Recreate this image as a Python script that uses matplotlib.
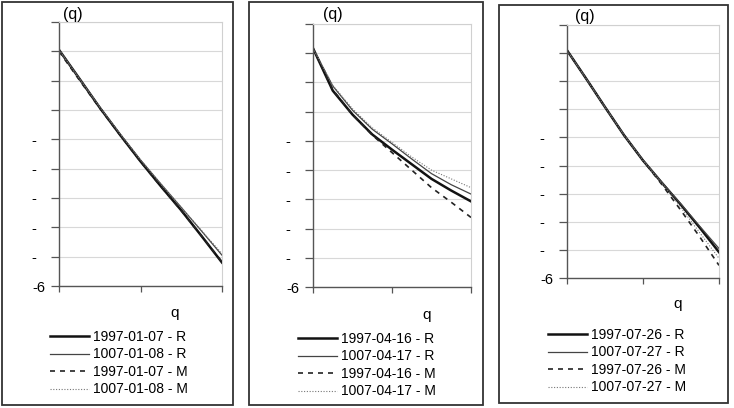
import matplotlib
matplotlib.use('Agg')
import matplotlib.pyplot as plt
from matplotlib.patches import Rectangle
import numpy as np

plt.rcParams['font.family'] = ['Liberation Sans', 'DejaVu Sans']

# x positions of the sampled points (q)
q_pts = [0, 1, 2, 3, 4, 5, 6, 7, 8]

# panel 1
p1_labels = ['1997-01-07 - R', '1007-01-08 - R', '1997-01-07 - M', '1007-01-08 - M']
p1_r1 = [2.05, 1.07, 0.08, -0.85, -1.75, -2.60, -3.42, -4.30, -5.2]
p1_r2 = [2.05, 1.08, 0.10, -0.82, -1.70, -2.52, -3.32, -4.13, -4.95]
p1_m1 = [2.00, 1.02, 0.06, -0.86, -1.76, -2.61, -3.43, -4.30, -5.18]
p1_m2 = [2.05, 1.06, 0.10, -0.81, -1.70, -2.52, -3.32, -4.11, -4.90]

# panel 2
p2_labels = ['1997-04-16 - R', '1007-04-17 - R', '1997-04-16 - M', '1007-04-17 - M']
p2_r1 = [2.17, 0.72, -0.10, -0.78, -1.30, -1.80, -2.30, -2.70, -3.07]
p2_r2 = [2.17, 0.88, 0.05, -0.60, -1.10, -1.62, -2.12, -2.50, -2.82]
p2_m1 = [2.17, 0.75, -0.10, -0.80, -1.40, -2.00, -2.60, -3.10, -3.62]
p2_m2 = [2.17, 0.90, 0.10, -0.55, -1.05, -1.55, -2.00, -2.30, -2.60]

# panel 3
p3_labels = ['1997-07-26 - R', '1007-07-27 - R', '1997-07-26 - M', '1007-07-27 - M']
p3_r1 = [2.10, 1.10, 0.08, -0.92, -1.82, -2.62, -3.40, -4.22, -5.08]
p3_r2 = [2.10, 1.10, 0.08, -0.90, -1.80, -2.60, -3.37, -4.17, -4.95]
p3_m1 = [2.10, 1.10, 0.08, -0.92, -1.82, -2.68, -3.60, -4.55, -5.55]
p3_m2 = [2.10, 1.10, 0.08, -0.92, -1.82, -2.64, -3.50, -4.40, -5.30]

y_ticks = [-6, -5, -4, -3, -2, -1, 0, 1, 2, 3]
y_ticklabels = ['-6', '-  ', '-  ', '-  ', '-  ', '-  ', '', '', '', '']

W, H = 734, 408
fig = plt.figure(figsize=(W / 100, H / 100), dpi=100)


def px_box(x0, y0, x1, y1):
    # pixel box (top-left origin) -> figure fraction rect
    return [x0 / W, 1 - y1 / H, (x1 - x0) / W, (y1 - y0) / H]


panels = [
    dict(box=(2, 2, 233, 405), ax=(59, 22, 222, 286), series=(p1_r1, p1_r2, p1_m1, p1_m2),
         labels=p1_labels, leg=(50, 330), q=(175, 313), yl=(73, 15)),
    dict(box=(249, 2, 483, 405), ax=(313, 24, 471, 287), series=(p2_r1, p2_r2, p2_m1, p2_m2),
         labels=p2_labels, leg=(298, 332), q=(427, 315), yl=(333, 15)),
    dict(box=(499, 5, 728, 403), ax=(567, 25, 719, 278), series=(p3_r1, p3_r2, p3_m1, p3_m2),
         labels=p3_labels, leg=(548, 328), q=(678, 304), yl=(585, 17)),
]

styles = [
    dict(color='#111111', lw=1.8, ls='-'),
    dict(color='#444444', lw=0.9, ls='-'),
    dict(color='#222222', lw=1.2, ls=(0, (3, 3))),
    dict(color='#777777', lw=0.8, ls=(0, (1, 1.5))),
]

for p in panels:
    bx = p['box']
    fig.patches.append(Rectangle((bx[0] / W, 1 - bx[3] / H), (bx[2] - bx[0]) / W, (bx[3] - bx[1]) / H,
                                 transform=fig.transFigure, fill=False, ec='#333333', lw=1.3))

    ax = fig.add_axes(px_box(*p['ax']))
    for s, lab, st in zip(p['series'], p['labels'], styles):
        ax.plot(q_pts, s, label=lab, **st)

    ax.set_xlim(0, 8)
    ax.set_ylim(-6, 3)
    ax.set_xticks([0, 4, 8])
    ax.set_xticklabels([])
    ax.set_yticks(y_ticks)
    ax.set_yticklabels(y_ticklabels, fontsize=10.5)
    ax.grid(axis='y', color='#d8d8d8', lw=0.8)
    ax.set_axisbelow(True)
    ax.tick_params(axis='y', direction='out', length=6, width=0.9, color='#555555', pad=4)
    ax.tick_params(axis='x', direction='out', length=4, width=0.9, color='#555555')
    for side in ['left', 'bottom']:
        ax.spines[side].set_color('#555555')
        ax.spines[side].set_linewidth(1.0)
    for side in ['top', 'right']:
        ax.spines[side].set_color('#d0d0d0')
        ax.spines[side].set_linewidth(0.8)

    fig.text(p['yl'][0] / W, 1 - p['yl'][1] / H, '(q)', fontsize=11.5, ha='center', va='center')
    fig.text(p['q'][0] / W, 1 - p['q'][1] / H, 'q', fontsize=11, ha='center', va='center')

    fig.legend(handles=ax.get_lines(), labels=p['labels'], loc='upper left',
               bbox_to_anchor=(p['leg'][0] / W, 1 - p['leg'][1] / H), bbox_transform=fig.transFigure,
               frameon=False, fontsize=10, handlelength=2.8, handletextpad=0.3,
               labelspacing=0.25, borderpad=0, borderaxespad=0)

fig.savefig('out.png', dpi=100)
